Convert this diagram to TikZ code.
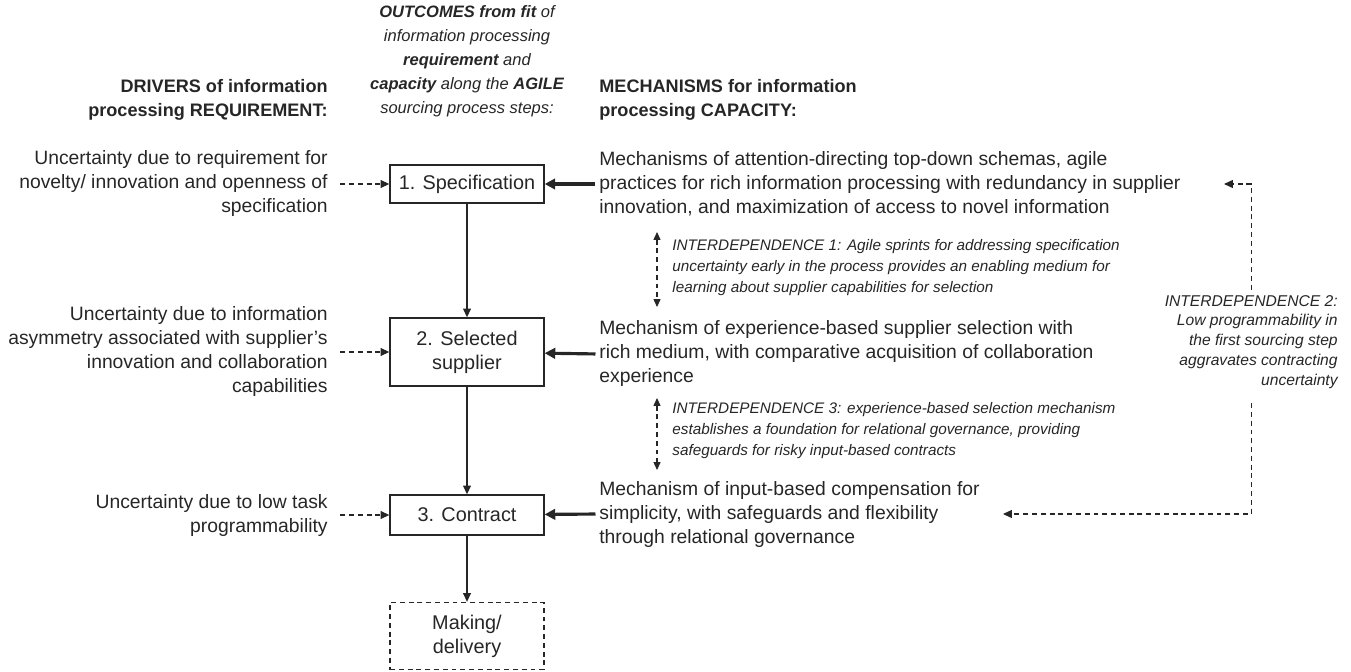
\documentclass[tikz,border=0pt]{standalone}
\usepackage{fontspec}
\setmainfont{Liberation Sans}
\usetikzlibrary{arrows.meta}

\begin{document}
\begin{tikzpicture}[x=0.02cm,y=-0.02cm,
  txt/.style={inner sep=0pt,text=black!85,font=\fontsize{11}{13.66}\selectfont},
  head/.style={txt,font=\fontsize{10.3}{13.66}\selectfont\bfseries},
  note/.style={inner sep=0pt,text=black!85,font=\fontsize{8.7}{11.95}\selectfont\itshape},
  stepbox/.style={draw=black!85,line width=0.8pt,minimum width=3.08cm,inner sep=0pt,align=center,txt,font=\fontsize{11.3}{13.66}\selectfont},
  flow/.style={-{Triangle[length=5pt,width=4.5pt]},line width=0.6pt,draw=black!85},
  feed/.style={flow,dash pattern=on 2.8pt off 2.2pt},
  push/.style={-{Triangle[length=6pt,width=6pt]},line width=1.8pt,draw=black!85},
  twoway/.style={{Triangle[length=4.5pt,width=4pt]}-{Triangle[length=4.5pt,width=4pt]},line width=0.6pt,draw=black!85,dash pattern=on 2.8pt off 2.2pt}]
\useasboundingbox (0,0) rectangle (1351,672);
% column headers
\node[head,anchor=east,align=right] (hdrivers) at (328,100) {DRIVERS of information\\processing REQUIREMENT:};
\node[txt,align=center,font=\fontsize{9.4}{13.66}\selectfont\itshape] (houtcomes) at (467,61) {\textbf{OUTCOMES from fit} of\\information processing\\\textbf{requirement} and\\\textbf{capacity} along the \textbf{AGILE}\\sourcing process steps:};
\node[head,anchor=west,align=left] (hmech) at (599,100) {MECHANISMS for information\\processing CAPACITY:};
% sourcing process steps
\node[stepbox,minimum height=0.76cm] (spec) at (467,184) {1. Specification};
\node[stepbox,minimum height=1.36cm] (sel) at (467,352) {2. Selected\\supplier};
\node[stepbox,minimum height=0.80cm] (contract) at (467,515) {3. Contract};
\node[stepbox,minimum height=1.34cm,dash pattern=on 2.8pt off 2.2pt] (make) at (467,636) {Making/\\delivery};
\draw[flow] (spec) -- (sel);
\draw[flow] (sel) -- (contract);
\draw[flow] (contract) -- (make);
% drivers
\node[txt,anchor=east,align=right] (d1) at (328,184) {Uncertainty due to requirement for\\novelty/ innovation and openness of\\specification};
\node[txt,anchor=east,align=right] (d2) at (328,352) {Uncertainty due to information\\asymmetry associated with supplier’s\\innovation and collaboration\\capabilities};
\node[txt,anchor=east,align=right] (d3) at (328,515) {Uncertainty due to low task\\programmability};
\draw[feed,shorten <=7pt] (d1.east) -- (spec);
\draw[feed,shorten <=7pt] (d2.east) -- (sel);
\draw[feed,shorten <=7pt] (d3.east) -- (contract);
% mechanisms
\node[txt,anchor=west,align=left] (m1) at (599,184) {Mechanisms of attention-directing top-down schemas, agile\\practices for rich information processing with redundancy in supplier\\innovation, and maximization of access to novel information};
\node[txt,anchor=west,align=left] (m2) at (599,354) {Mechanism of experience-based supplier selection with\\rich medium, with comparative acquisition of collaboration\\experience};
\node[txt,anchor=west,align=left] (m3) at (599,514) {Mechanism of input-based compensation for\\simplicity, with safeguards and flexibility\\through relational governance};
\draw[push,shorten <=2pt] (m1.west) -- (spec);
\draw[push,shorten <=2pt] (m2.west) -- (sel);
\draw[push,shorten <=2pt] (m3.west) -- (contract);
% interdependences
\node[note,anchor=west,align=left] (i1) at (672,268) {INTERDEPENDENCE 1: Agile sprints for addressing specification\\uncertainty early in the process provides an enabling medium for\\learning about supplier capabilities for selection};
\node[note,anchor=west,align=left] (i3) at (672,431) {INTERDEPENDENCE 3: experience-based selection mechanism\\establishes a foundation for relational governance, providing\\safeguards for risky input-based contracts};
\node[note,anchor=east,align=right,font=\fontsize{8.9}{11.3}\selectfont\itshape] (i2) at (1338,342) {INTERDEPENDENCE 2:\\Low programmability in\\the first sourcing step\\aggravates contracting\\uncertainty};
\coordinate (i1top) at (657,232);
\coordinate (i1bot) at (657,307);
\coordinate (i3top) at (657,398);
\coordinate (i3bot) at (657,470);
\draw[twoway] (i1top) -- (i1bot);
\draw[twoway] (i3top) -- (i3bot);
\coordinate (m1tip) at (1224,184);
\coordinate (m3tip) at (1003,514);
\draw[feed,shorten <=3pt] (i2.north) |- (m1tip);
\draw[feed,shorten <=8pt] (i2.south) |- (m3tip);
\end{tikzpicture}
\end{document}
